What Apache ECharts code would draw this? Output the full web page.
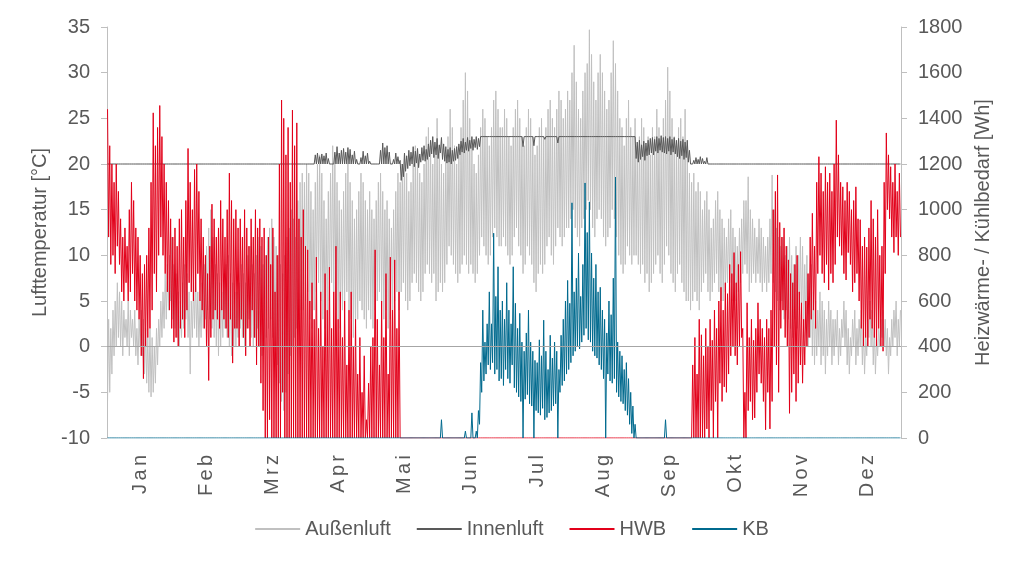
<!DOCTYPE html>
<html>
<head>
<meta charset="utf-8">
<script src="https://cdn.jsdelivr.net/npm/echarts@6/dist/echarts.min.js"></script>
<style>
html, body { margin: 0; padding: 0; background: #fff; }
#chart { width: 1024px; height: 562px; }
</style>
</head>
<body>
<div id="chart"></div>
<script>
// data ------------------------------------------------------------
// one entry per day (365), daily low and high value
var months = ['Jan','Feb','Mrz','Apr','Mai','Jun','Jul','Aug','Sep','Okt','Nov','Dez'];

// Außenluft [°C]
var ausHi = [
3,2,4,5,7,6,5,4,3,5,4,3,4,2,3,4,3,2,1,2,1,0,2,3,5,6,8,9,10,12,9,
8,6,5,7,9,8,6,5,7,8,6,5,7,9,11,13,15,12,9,8,7,6,8,9,10,8,7,6,
6,7,9,8,7,10,11,9,8,10,12,11,9,10,12,13,14,12,11,10,9,8,10,12,13,15,14,12,16,18,19,
18,20,19,17,15,18,20,21,19,16,14,17,19,22,21,18,16,15,17,19,20,18,16,14,15,17,19,18,16,15,
17,15,14,16,18,19,17,15,16,14,13,15,17,19,18,20,21,19,17,18,20,22,21,19,18,20,23,24,22,20,21,
25,22,20,19,21,23,26,24,22,20,21,24,27,30,28,25,22,20,19,21,24,26,25,23,22,24,27,28,26,24,
24,26,25,23,22,24,26,27,25,23,22,24,26,25,23,21,22,24,25,23,24,26,27,25,24,26,28,27,25,26,28,
27,30,33,29,26,25,28,30,31,34.7,32,29,27,30,32,30,28,26,27,30,33.5,31,28,25,24,22,25,27,24,23,25,
22,23,25,24,22,23,21,24,23,26,24,22,25,27,30.6,28,25,23,22,24,25,23,26,22,19,18,19,17,18,17,
15,16,17,15,13,14,16,17,15,14,13,12,14,15,13,12,11,13,14,16,16,18.6,15,14,13,12,14,13,12,11,12,
14,18.8,15,13,12,11,12,10,11,12,10,9,11,10,12,11,9,10,8,9,6,5,4,6,5,4,3,5,4,3,
3,4,2,3,5,4,2,1,3,4,2,3,4,2,1,3,5,4,2,1,2,3,4,3,2,1,3,4,5,3,4
];
var ausLo = [
-6,-5,-3,-1,0,1,0,-1,1,0,-1,1,0,-1,-2,0,-1,-3,-4,-5,-5.5,-5,-4,-2,0,1,2,3,4,5,3,
2,1,0,1,2,3,1,-3,1,2,1,0,1,2,3,4,3,2,1,0,-1,0,1,2,1,0,-1,0,
0,1,2,1,0,2,3,1,0,1,2,0,-1,0,1,2,3,1,0,-2,-4,-6,-7,-5,-3,-1,0,1,2,3,4,
4,5,6,3,2,4,6,7,5,3,2,4,5,7,6,4,3,2,4,5,6,4,3,1,2,3,5,4,3,2,
4,3,2,4,5,6,5,3,4,2,3,4,5,6,4,6,7,5,4,5,7,8,7,6,5,6,8,9,8,7,8,
5,6,7,6,7,9,11,10,9,8,7,8,9,10,9,8,9,8,7,8,10,12,11,10,9,10,12,13,12,11,
11,12,11,10,9,10,12,13,11,10,8,9,11,10,9,7,6,8,9,8,9,11,12,10,9,11,13,12,11,12,13,
13,14,15,13,12,11,13,14,15,16,15,13,12,14,15,14,12,11,12,13,15,14,12,10,9,8,9,11,10,9,10,
10,9,8,9,7,8,6,7,8,9,10,8,7,9,11,10,8,7,6,8,9,7,6,5,5,4,5,6,5,4,
6,7,8,6,5,6,7,8,6,5,5,6,7,7,5,4,5,6,7,8,9,8,6,7,8,7,8,7,6,7,6,
7,8,7,6,5,4,5,3,4,3,2,1,3,2,4,3,1,2,0,1,-1,-2,-1,0,-2,-1,-3,-1,0,-2,
-1,0,-2,-1,1,0,-2,-3,-1,0,-2,-1,0,-2,-3,-1,1,0,-2,-3,-1,0,1,0,-1,-3,-1,0,1,-1,0
];

// Innenluft [°C]
var innenHi = [
20,20,20,20,20,20,20,20,20,20, 20,20,20,20,20,20,20,20,20,20, 20,20,20,20,20,20,20,20,20,20, 20,
20,20,20,20,20,20,20,20,20,20, 20,20,20,20,20,20,20,20,20,20, 20,20,20,20,20,20,20,20,
20,20,20,20,20,20,20,20,20,20, 20,20,20,20,20,20,20,20,20,20, 20,20,20,20,20,20,20,20,20,20, 20,
20,20,20,20,20,21,21.2,20.8,21.1,20.9, 21.2,20.6,20,20,21.3,21.9,21.2,21.5,21.7,21.3, 21.8,21.6,21,21.4,20.5,20,20.7,21.4,20.9,21.2,
20.3,20,20,20,20.2,21.5,22.3,21.8,22,21.3, 20,20.5,21.2,20.8,20.4,20,21.2,20.9,21.5,21.3, 21.9,21.4,21.7,21.1,21.8,22,21.6,22.2,22.6,23, 22.4,
22.8,22.1,22.9,22.2,21.9,21.6,21.8,21.5,21.7,21.9, 22.2,22.5,22.8,22.4,22.9,22.6,23,22.7,23,22.8, 23,23,23,23,23,23,23,23,23,23,
23,23,23,23,23,23,23,23,23,23, 23,23,23,23,23,23,23,23,23,23, 23,23,23,23,23,23,23,23,23,23, 23,
23,23,23,23,23,23,23,23,23,23, 23,23,23,23,23,23,23,23,23,23, 23,23,23,23,23,23,23,23,23,23, 23,
22.4,22.6,22.1,22.5,22.3,22.6,22.8,22.9,22.7,23, 22.8,23.1,22.9,23,22.8,23,22.7,22.9,22.6,22.8, 22.5,22.7,22.4,22.6,21.5,20.2,20.4,20.7,20.5,20.8,
20.6,20.3,20.7,20.2,20,20,20,20,20,20, 20,20,20,20,20,20,20,20,20,20, 20,20,20,20,20,20,20,20,20,20, 20,
20,20,20,20,20,20,20,20,20,20, 20,20,20,20,20,20,20,20,20,20, 20,20,20,20,20,20,20,20,20,20,
20,20,20,20,20,20,20,20,20,20, 20,20,20,20,20,20,20,20,20,20, 20,20,20,20,20,20,20,20,20,20, 20
];
var innenLo = [
20,20,20,20,20,20,20,20,20,20, 20,20,20,20,20,20,20,20,20,20, 20,20,20,20,20,20,20,20,20,20, 20,
20,20,20,20,20,20,20,20,20,20, 20,20,20,20,20,20,20,20,20,20, 20,20,20,20,20,20,20,20,
20,20,20,20,20,20,20,20,20,20, 20,20,20,20,20,20,20,20,20,20, 20,20,20,20,20,20,20,20,20,20, 20,
20,20,20,20,20,20,20,20,20,20, 20,20,20,20,20,20,20,20,20,20, 20,20,20,20,20,20,20,20,20,20,
20,20,20,20,20,20,20,20,20,20, 20,20,20,20,20,18.2,18.6,19.2,19.5,19.8, 20,19.7,20.1,19.6,20.2,20.4,20.3,20.5,20.8,21.1, 20.7,
21,20.6,21.2,20.5,20.3,20.1,20.2,20,20.3,20.4, 20.6,21,21.3,21.2,21.5,21.4,21.7,21.5,21.8,21.6, 21.9,23,23,23,23,23,23,23,23,23,
23,23,23,23,23,23,23,23,23,23, 21.9,23,23,23,23,22,23,23,23,23, 22.7,23,23,23,23,23,22.3,23,23,23, 23,
23,23,23,23,23,23,23,23,23,23, 23,23,23,23,23,23,23,22.8,23,23, 23,23,23,23,23,23,23,23,23,23, 23,
20.6,20.2,20.5,20.8,20.4,20.9,21,21.2,21,21.4, 21.2,21.5,21.3,21.2,21.1,21.4,21,21.3,21.1,20.8, 20.6,20.9,20.5,20.7,20.2,20,20,20,20,20,
20,20,20,20,20,20,20,20,20,20, 20,20,20,20,20,20,20,20,20,20, 20,20,20,20,20,20,20,20,20,20, 20,
20,20,20,20,20,20,20,20,20,20, 20,20,20,20,20,20,20,20,20,20, 20,20,20,20,20,20,20,20,20,20,
20,20,20,20,20,20,20,20,20,20, 20,20,20,20,20,20,20,20,20,20, 20,20,20,20,20,20,20,20,20,20, 20
];

// HWB [Wh]
var hwbHi = [
1440,1280,1200,1120,1200,1080,960,880,920,840, 1000,1120,1040,920,880,800,720,760,800,920, 1120,1424,1280,1360,1456,1320,1200,1120,1040,960, 880,
920,840,960,1000,880,1040,1268,1120,1000,1176, 1200,1080,960,880,800,720,840,1024,960,880, 920,1040,960,880,1000,1160,1040,960,
1000,920,960,880,1000,920,840,960,880,1000, 920,960,880,920,800,880,760,920,640,800, 1200,1480,1400,1240,1360,1120,1436,1280,1380,960, 880,
1000,840,824,600,680,520,792,480,640,400, 720,560,748,480,640,840,520,640,440,600, 320,560,640,400,520,280,440,200,360,80,
240,400,440,824,520,320,600,440,720,280, 792,560,780,480,640,0,0,0,0,0, 0,0,0,0,0,0,0,0,0,0, 0,
0,0,0,0,0,0,0,0,0,0, 0,0,0,0,0,0,0,0,0,0, 0,0,0,0,0,0,0,0,0,0,
0,0,0,0,0,0,0,0,0,0, 0,0,0,0,0,0,0,0,0,0, 0,0,0,0,0,0,0,0,0,0, 0,
0,0,0,0,0,0,0,0,0,0, 0,0,0,0,0,0,0,0,0,0, 0,0,0,0,0,0,0,0,0,0, 0,
0,0,0,0,0,0,0,0,0,0, 0,0,0,0,0,0,0,0,0,0, 0,0,0,0,0,0,320,440,280,520,
452,360,480,400,520,428,560,480,600,660, 560,680,632,760,720,812,680,760,816,480, 200,592,440,520,428,480,592,520,480,440, 520,
480,560,1000,1080,1152,944,880,920,840,780, 720,680,760,800,640,592,520,600,720,880, 984,840,1120,1232,1160,1080,1188,1120,1160,1080,
1200,1392,1240,1120,1100,1040,1120,1080,1000,1040, 1100,960,956,840,880,836,920,1040,960,880, 1000,800,840,1120,1336,1240,1188,1120,1200,1080, 1160
];
var hwbLo = [
880,760,800,720,840,760,640,600,680,600, 640,720,600,560,520,360,260,400,440,480, 560,720,640,800,880,800,720,640,560,480, 420,
440,400,480,520,440,560,680,640,600,640, 720,600,560,480,400,252,440,520,560,520, 480,560,520,480,440,520,328,480,
480,400,520,440,360,480,400,560,440,320, 400,240,120,0,0,80,0,0,0,0, 0,200,0,0,0,0,0,0,0,0, 0,
0,0,0,0,0,0,0,0,0,0, 0,0,0,0,0,0,0,0,0,0, 0,0,0,0,0,0,0,0,0,0,
0,0,0,0,0,0,0,0,0,0, 0,0,0,0,0,0,0,0,0,0, 0,0,0,0,0,0,0,0,0,0, 0,
0,0,0,0,0,0,0,0,0,0, 0,0,0,0,0,0,0,0,0,0, 0,0,0,0,0,0,0,0,0,0,
0,0,0,0,0,0,0,0,0,0, 0,0,0,0,0,0,0,0,0,0, 0,0,0,0,0,0,0,0,0,0, 0,
0,0,0,0,0,0,0,0,0,0, 0,0,0,0,0,0,0,0,0,0, 0,0,0,0,0,0,0,0,0,0, 0,
0,0,0,0,0,0,0,0,0,0, 0,0,0,0,0,0,0,0,0,0, 0,0,0,0,0,0,0,0,0,0,
0,0,40,0,120,0,160,0,240,160, 224,200,280,360,400,360,320,400,440,0, 0,120,160,80,88,200,280,240,160,36, 200,
40,160,400,320,200,480,560,440,400,108, 200,280,160,240,320,240,320,400,440,520, 560,480,720,800,720,680,760,648,720,680,
760,880,840,800,720,692,812,760,640,680, 720,600,480,400,440,400,520,480,440,400, 480,400,380,720,1000,960,880,812,880,800, 880
];

// KB [Wh]
var kbHi = [
0,0,0,0,0,0,0,0,0,0, 0,0,0,0,0,0,0,0,0,0, 0,0,0,0,0,0,0,0,0,0, 0,
0,0,0,0,0,0,0,0,0,0, 0,0,0,0,0,0,0,0,0,0, 0,0,0,0,0,0,0,0,
0,0,0,0,0,0,0,0,0,0, 0,0,0,0,0,0,0,0,0,0, 0,0,0,0,0,0,0,0,0,0, 0,
0,0,0,0,0,0,0,0,0,0, 0,0,0,0,0,0,0,0,0,0, 0,0,0,0,0,0,0,0,0,0,
0,0,0,0,0,0,0,0,0,0, 0,0,0,0,0,0,0,0,0,0, 0,0,0,0,0,0,0,0,0,0, 0,
0,0,80,0,0,0,0,0,0,0, 0,0,0,30,0,0,110,0,30,120, 330,560,420,500,640,500,897,620,750,560,
600,520,680,560,500,750,590,480,546,420, 380,460,560,420,380,340,330,430,360,516, 380,300,450,350,420,380,300,450,520,600, 690,
590,1030,640,700,810,620,760,1117,900,1034, 810,700,760,640,660,560,520,460,600,540, 700,1143,420,380,360,300,330,260,200,140, 60,
0,0,0,0,0,0,0,0,0,0, 0,0,0,80,0,0,0,0,0,0, 0,0,0,0,0,0,0,0,0,0,
0,0,0,0,0,0,0,0,0,0, 0,0,0,0,0,0,0,0,0,0, 0,0,0,0,0,0,0,0,0,0, 0,
0,0,0,0,0,0,0,0,0,0, 0,0,0,0,0,0,0,0,0,0, 0,0,0,0,0,0,0,0,0,0,
0,0,0,0,0,0,0,0,0,0, 0,0,0,0,0,0,0,0,0,0, 0,0,0,0,0,0,0,0,0,0, 0
];
var kbLo = [
0,0,0,0,0,0,0,0,0,0, 0,0,0,0,0,0,0,0,0,0, 0,0,0,0,0,0,0,0,0,0, 0,
0,0,0,0,0,0,0,0,0,0, 0,0,0,0,0,0,0,0,0,0, 0,0,0,0,0,0,0,0,
0,0,0,0,0,0,0,0,0,0, 0,0,0,0,0,0,0,0,0,0, 0,0,0,0,0,0,0,0,0,0, 0,
0,0,0,0,0,0,0,0,0,0, 0,0,0,0,0,0,0,0,0,0, 0,0,0,0,0,0,0,0,0,0,
0,0,0,0,0,0,0,0,0,0, 0,0,0,0,0,0,0,0,0,0, 0,0,0,0,0,0,0,0,0,0, 0,
0,0,0,0,0,0,0,0,0,0, 0,0,0,0,0,0,0,0,0,0, 60,200,250,280,320,300,330,280,300,250,
260,230,300,260,240,320,220,200,180,160, 0,170,190,150,140,0,120,110,100,130, 80,90,110,120,140,150,0,200,230,250, 280,
300,330,360,380,400,390,420,450,480,430, 420,380,360,350,320,300,260,0,280,250, 240,260,200,180,160,150,120,100,60,20, 0,
0,0,0,0,0,0,0,0,0,0, 0,0,0,0,0,0,0,0,0,0, 0,0,0,0,0,0,0,0,0,0,
0,0,0,0,0,0,0,0,0,0, 0,0,0,0,0,0,0,0,0,0, 0,0,0,0,0,0,0,0,0,0, 0,
0,0,0,0,0,0,0,0,0,0, 0,0,0,0,0,0,0,0,0,0, 0,0,0,0,0,0,0,0,0,0,
0,0,0,0,0,0,0,0,0,0, 0,0,0,0,0,0,0,0,0,0, 0,0,0,0,0,0,0,0,0,0, 0
];

// check lengths
[ausHi, ausLo, innenHi, innenLo, hwbHi, hwbLo, kbHi, kbLo].forEach(function (a, i) {
    if (a.length !== 365) throw new Error('array ' + i + ' has ' + a.length + ' days');
});

// two points per day: first value in the morning, second in the afternoon
function dayPoints(first, second) {
    var pts = [];
    for (var d = 0; d < first.length; d++) {
        pts.push([d + 0.25, first[d]]);
        pts.push([d + 0.75, second[d]]);
    }
    return pts;
}

// chart -----------------------------------------------------------
var myChart = echarts.init(document.getElementById('chart'));
var textColor = '#595959';
var fontFamily = '"Liberation Sans", Arial, sans-serif';
var fontSize = 20;

var option = {
    animation: false,
    textStyle: { fontFamily: fontFamily },
    grid: { left: 107, right: 123, top: 27, bottom: 124 },
    legend: {
        top: 514,
        left: 'center',
        itemWidth: 45,
        itemHeight: 2,
        itemGap: 26,
        icon: 'rect',
        textStyle: { color: textColor, fontSize: fontSize, fontFamily: fontFamily },
        data: ['Außenluft', 'Innenluft', 'HWB', 'KB']
    },
    xAxis: [
        {
            type: 'value', min: 0, max: 365, show: false
        },
        {
            type: 'category',
            data: months,
            boundaryGap: true,
            position: 'bottom',
            axisLine: { show: false },
            axisTick: { show: false },
            splitLine: { show: false },
            axisLabel: {
                rotate: 90,
                interval: 0,
                margin: 17,
                color: textColor,
                fontSize: fontSize,
                fontFamily: fontFamily,
                formatter: function (v) { return v.split('').join('\u2006'); }
            }
        }
    ],
    yAxis: [
        {
            type: 'value', min: -10, max: 35, interval: 5,
            name: 'Lufttemperatur [°C]',
            nameLocation: 'middle', nameRotate: 90, nameGap: 52,
            nameTextStyle: { color: textColor, fontSize: fontSize, fontFamily: fontFamily },
            axisLine: { show: true, lineStyle: { color: '#bfbfbf', width: 1 } },
            axisTick: { show: true, length: 6, lineStyle: { color: '#bfbfbf' } },
            splitLine: { show: false },
            axisLabel: { color: textColor, fontSize: fontSize, margin: 17, fontFamily: fontFamily }
        },
        {
            type: 'value', min: 0, max: 1800, interval: 200,
            position: 'right',
            name: 'Heizwärme- / Kühlbedarf [Wh]',
            nameLocation: 'middle', nameRotate: 90, nameGap: 72,
            nameTextStyle: { color: textColor, fontSize: fontSize, fontFamily: fontFamily },
            axisLine: { show: true, lineStyle: { color: '#bfbfbf', width: 1 } },
            axisTick: { show: true, length: 6, lineStyle: { color: '#bfbfbf' } },
            splitLine: { show: false },
            axisLabel: {
                color: textColor, fontSize: fontSize, margin: 17, fontFamily: fontFamily,
                formatter: function (v) { return String(v); }
            }
        }
    ],
    series: [
        {
            name: 'Außenluft', type: 'line', xAxisIndex: 0, yAxisIndex: 0,
            data: dayPoints(ausLo, ausHi),
            symbol: 'none',
            lineStyle: { color: '#c0c0c0', width: 1 },
            itemStyle: { color: '#c0c0c0' },
            markLine: {
                silent: true, symbol: 'none', label: { show: false },
                lineStyle: { color: '#a6a6a6', width: 1, type: 'solid' },
                data: [{ yAxis: 0 }]
            }
        },
        {
            name: 'Innenluft', type: 'line', xAxisIndex: 0, yAxisIndex: 0,
            data: dayPoints(innenLo, innenHi),
            symbol: 'none',
            lineStyle: { color: '#595959', width: 1 },
            itemStyle: { color: '#595959' }
        },
        {
            name: 'HWB', type: 'line', xAxisIndex: 0, yAxisIndex: 1,
            data: dayPoints(hwbHi, hwbLo),
            symbol: 'none',
            lineStyle: { color: '#e2001a', width: 1 },
            itemStyle: { color: '#e2001a' }
        },
        {
            name: 'KB', type: 'line', xAxisIndex: 0, yAxisIndex: 1,
            data: dayPoints(kbLo, kbHi),
            symbol: 'none',
            lineStyle: { color: '#006a8e', width: 1 },
            itemStyle: { color: '#006a8e' }
        }
    ]
};
myChart.setOption(option);
</script>
</body>
</html>
